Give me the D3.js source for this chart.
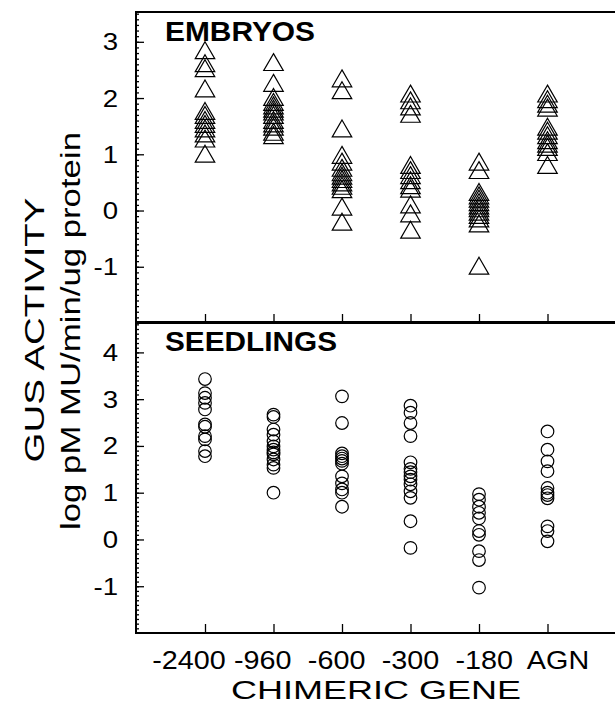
<!DOCTYPE html>
<html lang="en">
<head>
<meta charset="UTF-8">
<title>GUS activity</title>
<style>
  body { margin: 0; background: #fff; }
  svg { display: block; background: #fff; font-family: "Liberation Sans", Arial, Helvetica, sans-serif; }
  .tick line { stroke: #000; stroke-width: 1.3px; }
  .frame { stroke: #000; stroke-width: 2px; fill: none; }
</style>
</head>
<body>
<script src="https://cdnjs.cloudflare.com/ajax/libs/d3/7.8.5/d3.min.js"></script>
<svg></svg>
<script>
var genes = ['-2400', '-960', '-600', '-300', '-180', 'AGN'];

// embryos, log pM MU/min/ug protein
var emb2400 = [2.85, 2.62, 2.53, 2.17, 1.77, 1.70, 1.61, 1.54, 1.46, 1.37, 1.28, 1.01];
var emb960  = [2.64, 2.27, 2.02, 1.93, 1.87, 1.81, 1.76, 1.70, 1.61, 1.55, 1.49, 1.40, 1.34];
var emb600  = [2.35, 2.14, 1.46, 0.99, 0.87, 0.76, 0.68, 0.62, 0.56, 0.50, 0.44, 0.38, 0.07, -0.20];
var emb300  = [2.08, 1.96, 1.85, 1.72, 0.81, 0.72, 0.63, 0.54, 0.45, 0.39, 0.11, -0.05, -0.34];
var emb180  = [0.87, 0.72, 0.33, 0.27, 0.21, 0.15, 0.09, 0.04, -0.02, -0.08, -0.14, -0.23, -0.98];
var embAGN  = [2.08, 1.98, 1.90, 1.83, 1.49, 1.42, 1.34, 1.25, 1.19, 1.13, 1.04, 0.81];

// seedlings
var sdl2400 = [3.43, 3.13, 3.03, 2.92, 2.78, 2.46, 2.41, 2.21, 2.14, 1.89, 1.78];
var sdl960  = [2.67, 2.62, 2.35, 2.24, 2.10, 1.99, 1.92, 1.86, 1.82, 1.71, 1.60, 1.53, 1.00];
var sdl600  = [3.06, 2.49, 1.84, 1.78, 1.73, 1.68, 1.62, 1.35, 1.20, 1.07, 1.00, 0.70];
var sdl300  = [2.86, 2.71, 2.49, 2.21, 1.65, 1.51, 1.44, 1.35, 1.28, 1.18, 1.03, 0.89, 0.39, -0.18];
var sdl180  = [0.97, 0.85, 0.70, 0.57, 0.45, 0.18, 0.10, -0.25, -0.44, -1.03];
var sdlAGN  = [2.31, 1.92, 1.67, 1.46, 1.10, 1.00, 0.95, 0.88, 0.28, 0.18, -0.04];

var embryoTicks = [-1, 0, 1, 2, 3];
var seedlingTicks = [-1, 0, 1, 2, 3, 4];

var width = 615, height = 709;
var left = 136, right = 615;

function rows(cols) {
  var out = [];
  cols.forEach(function(vals, i) {
    vals.forEach(function(v) { out.push({gene: genes[i], value: v}); });
  });
  return out;
}

var svg = d3.select('svg').attr('width', width).attr('height', height);

var x = d3.scalePoint().domain(genes).range([205, 547.5]);
// the printed labels sit a little wider apart than the ticks
var xLabel = d3.scalePoint().domain(genes).range([189, 558]);

// triangle centred on its bounding box
var triangle = {
  draw: function(ctx, size) {
    var w = Math.sqrt(size * 4 / Math.sqrt(3)), h = w * Math.sqrt(3) / 2;
    ctx.moveTo(0, -h / 2);
    ctx.lineTo(w / 2, h / 2);
    ctx.lineTo(-w / 2, h / 2);
    ctx.closePath();
  }
};

var panels = [
  {title: 'EMBRYOS', titleLen: 150, top: 12, bottom: 323, domain: [-2, 3.53], ticks: embryoTicks,
   data: rows([emb2400, emb960, emb600, emb300, emb180, embAGN]), shape: 'tri'},
  {title: 'SEEDLINGS', titleLen: 172, top: 322, bottom: 633, domain: [-2, 4.65], ticks: seedlingTicks,
   data: rows([sdl2400, sdl960, sdl600, sdl300, sdl180, sdlAGN]), shape: 'circle'}
];

// stretched text helper (the printed font is a wide face)
function wideText(g, tx, ty, str, size, sx, anchor) {
  return g.append('text')
    .attr('transform', 'translate(' + tx + ',' + ty + ') scale(' + sx + ',1)')
    .attr('text-anchor', anchor)
    .attr('font-size', size)
    .text(str);
}

panels.forEach(function(p) {
  var y = d3.scaleLinear().domain(p.domain).range([p.bottom, p.top]);
  var g = svg.append('g');

  // minor ticks every 0.1
  g.append('g')
    .attr('transform', 'translate(' + left + ',0)')
    .call(d3.axisLeft(y).tickValues(d3.range(-19, Math.floor(p.domain[1] * 10) + 1).map(function(d) { return d / 10; }))
      .tickSize(-3).tickFormat(''))
    .call(function(s) { s.select('.domain').remove(); });

  // major ticks
  g.append('g')
    .attr('transform', 'translate(' + left + ',0)')
    .call(d3.axisLeft(y).tickValues(p.ticks).tickSize(-8).tickFormat(''))
    .call(function(s) { s.select('.domain').remove(); });

  p.ticks.forEach(function(t) {
    wideText(g, 118, y(t) + 8.5, t, 24, 1.15, 'end');
  });

  // category ticks pointing up from the panel floor
  g.append('g')
    .attr('transform', 'translate(0,' + p.bottom + ')')
    .call(d3.axisBottom(x).tickSize(-9).tickFormat(''))
    .call(function(s) { s.select('.domain').remove(); });

  // frame: left axis and the horizontal rules
  g.append('line').attr('class', 'frame')
    .attr('x1', left).attr('x2', left).attr('y1', p.top).attr('y2', p.bottom);
  g.append('line').attr('class', 'frame')
    .attr('x1', left - 1).attr('x2', right).attr('y1', p.top).attr('y2', p.top);
  g.append('line').attr('class', 'frame')
    .attr('x1', left - 1).attr('x2', right).attr('y1', p.bottom).attr('y2', p.bottom);

  g.append('text')
    .attr('x', 165).attr('y', p.top + 29)
    .attr('font-size', 28).attr('font-weight', 'bold')
    .attr('textLength', p.titleLen).attr('lengthAdjust', 'spacingAndGlyphs')
    .text(p.title);

  var pts = g.append('g').selectAll('path')
    .data(p.data)
    .enter();

  if (p.shape === 'tri') {
    pts.append('path')
      .attr('d', d3.symbol().type(triangle).size(165))
      .attr('transform', function(d) { return 'translate(' + x(d.gene) + ',' + y(d.value) + ')'; })
      .attr('fill', 'none').attr('stroke', '#000').attr('stroke-width', 1.2);
  } else {
    pts.append('circle')
      .attr('cx', function(d) { return x(d.gene); })
      .attr('cy', function(d) { return y(d.value); })
      .attr('r', 6.3)
      .attr('fill', 'none').attr('stroke', '#000').attr('stroke-width', 1.2);
  }
});

// x labels
genes.forEach(function(gname) {
  wideText(svg, xLabel(gname), 669, gname, 25, 1.15, 'middle');
});

svg.append('text')
  .attr('x', 376).attr('y', 699)
  .attr('text-anchor', 'middle').attr('font-size', 26)
  .attr('textLength', 290).attr('lengthAdjust', 'spacingAndGlyphs')
  .text('CHIMERIC GENE');

svg.append('text')
  .attr('transform', 'translate(44,330) rotate(-90)')
  .attr('text-anchor', 'middle').attr('font-size', 27)
  .attr('textLength', 265).attr('lengthAdjust', 'spacingAndGlyphs')
  .text('GUS ACTIVITY');

svg.append('text')
  .attr('transform', 'translate(80,331) rotate(-90)')
  .attr('text-anchor', 'middle').attr('font-size', 27)
  .attr('textLength', 398).attr('lengthAdjust', 'spacingAndGlyphs')
  .text('log pM MU/min/ug protein');
</script>
</body>
</html>
